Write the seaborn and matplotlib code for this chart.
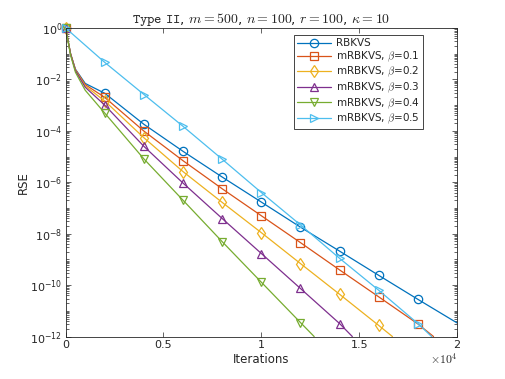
import numpy as np
import pandas as pd
import matplotlib
matplotlib.use("Agg")
import matplotlib.pyplot as plt
import matplotlib.ticker as mticker
import seaborn as sns

# RSE values (markers every 2000 iterations)
it_rbkvs = [0, 250, 500, 1000, 2000, 4000, 6000, 8000, 10000, 12000, 14000, 16000, 18000, 20000]
rse_rbkvs = [1, 1e-1, 2.5e-2, 7e-3, 2.9e-3, 1.8e-4, 1.6e-5, 1.6e-6, 1.7e-7, 1.8e-8, 2.1e-9, 2.4e-10, 2.8e-11, 3.4e-12]

it_b01 = [0, 250, 500, 1000, 2000, 4000, 6000, 8000, 10000, 12000, 14000, 16000, 18000, 18800]
rse_b01 = [1, 1e-1, 2.4e-2, 6.3e-3, 2.0e-3, 9.8e-5, 6.9e-6, 5.6e-7, 5.0e-8, 4.5e-9, 3.9e-10, 3.5e-11, 3.1e-12, 1.0e-12]

it_b02 = [0, 250, 500, 1000, 2000, 4000, 6000, 8000, 10000, 12000, 14000, 16000, 16700]
rse_b02 = [1, 1e-1, 2.3e-2, 5.6e-3, 1.45e-3, 5.4e-5, 2.6e-6, 1.65e-7, 1.1e-8, 6.9e-10, 4.4e-11, 2.7e-12, 1.0e-12]

it_b03 = [0, 250, 500, 1000, 2000, 4000, 6000, 8000, 10000, 12000, 14000, 14650]
rse_b03 = [1, 1e-1, 2.2e-2, 5.0e-3, 1.0e-3, 2.5e-5, 9.3e-7, 3.9e-8, 1.7e-9, 7.4e-11, 3.2e-12, 1.0e-12]

it_b04 = [0, 250, 500, 1000, 2000, 4000, 6000, 8000, 10000, 12000, 12700]
rse_b04 = [1, 8.9e-2, 1.9e-2, 3.8e-3, 4.9e-4, 8.1e-6, 2.0e-7, 4.9e-9, 1.3e-10, 3.5e-12, 1.0e-12]

it_b05 = [0, 2000, 4000, 6000, 8000, 10000, 12000, 14000, 16000, 18000, 18700]
rse_b05 = [1, 4.6e-2, 2.6e-3, 1.5e-4, 7.9e-6, 4.0e-7, 2.2e-8, 1.1e-9, 6.3e-11, 3.2e-12, 1.0e-12]

labels = ["RBKVS", r"mRBKVS, $\beta$=0.1", r"mRBKVS, $\beta$=0.2",
          r"mRBKVS, $\beta$=0.3", r"mRBKVS, $\beta$=0.4", r"mRBKVS, $\beta$=0.5"]
colors = ["#0072BD", "#D95319", "#EDB120", "#7E2F8E", "#77AC30", "#4DBEEE"]
markers = ["o", "s", "d", "^", "v", ">"]

xticks = [0, 5000, 10000, 15000, 20000]
xticklabels = ["0", "0.5", "1", "1.5", "2"]
yticks = [1e0, 1e-2, 1e-4, 1e-6, 1e-8, 1e-10, 1e-12]

sns.set_style("ticks")
plt.rcParams["font.family"] = ["DejaVu Sans"]
plt.rcParams["mathtext.fontset"] = "cm"

fig = plt.figure(figsize=(5.05, 3.79), dpi=100)
ax = fig.add_axes([0.130, 0.112, 0.775, 0.814])

series = [(it_rbkvs, rse_rbkvs), (it_b01, rse_b01), (it_b02, rse_b02),
          (it_b03, rse_b03), (it_b04, rse_b04), (it_b05, rse_b05)]
for (its, vals), lab, col, mk in zip(series, labels, colors, markers):
    df = pd.DataFrame({"it": its, "rse": vals})
    # markers only at 0, 2000, ..., 18000
    mask = [(i % 2000 == 0 and i < 20000) for i in its]
    sns.lineplot(data=df, x="it", y="rse", ax=ax, color=col, marker=mk,
                 markevery=mask, markersize=6, markerfacecolor="none",
                 markeredgecolor=col, markeredgewidth=0.9, linewidth=0.9,
                 label=lab, clip_on=False)

ax.set_yscale("log")
ax.set_xlim(0, 20000)
ax.set_ylim(1e-12, 1e0)
ax.set_xticks(xticks)
ax.set_xticklabels(xticklabels)
ax.set_yticks(yticks)
ax.yaxis.set_minor_locator(mticker.LogLocator(base=10, subs=np.arange(1, 10), numticks=50))
ax.yaxis.set_minor_formatter(mticker.NullFormatter())
ax.xaxis.set_minor_locator(mticker.NullLocator())
ax.tick_params(which="both", direction="in", top=True, right=True, colors="#262626",
               labelsize=8, width=0.5, pad=2.5)
ax.tick_params(which="major", length=3.5)
ax.tick_params(which="minor", length=2)
for sp in ax.spines.values():
    sp.set_linewidth(0.6)
    sp.set_color("#262626")

ax.set_xlabel("Iterations", fontsize=8.5, labelpad=2)
ax.set_ylabel("RSE", fontsize=8.5, labelpad=0)
ax.set_title(r"$\mathtt{Type\ II}$, $m = 500$, $n = 100$, $r = 100$, $\kappa = 10$",
             fontsize=10, pad=3)
ax.text(1.0, -0.05, r"$\times10^{4}$", transform=ax.transAxes, ha="right", va="top",
        fontsize=8.5, color="#262626", family="DejaVu Sans")

leg = ax.legend(loc="upper right", bbox_to_anchor=(0.913, 0.977), borderaxespad=0,
                fontsize=7.5, frameon=True, fancybox=False, framealpha=1,
                edgecolor="#262626", borderpad=0.3, labelspacing=0.12,
                handlelength=3.2, handletextpad=0.5)
leg.get_frame().set_linewidth(0.6)

fig.savefig("out.png", dpi=100)
